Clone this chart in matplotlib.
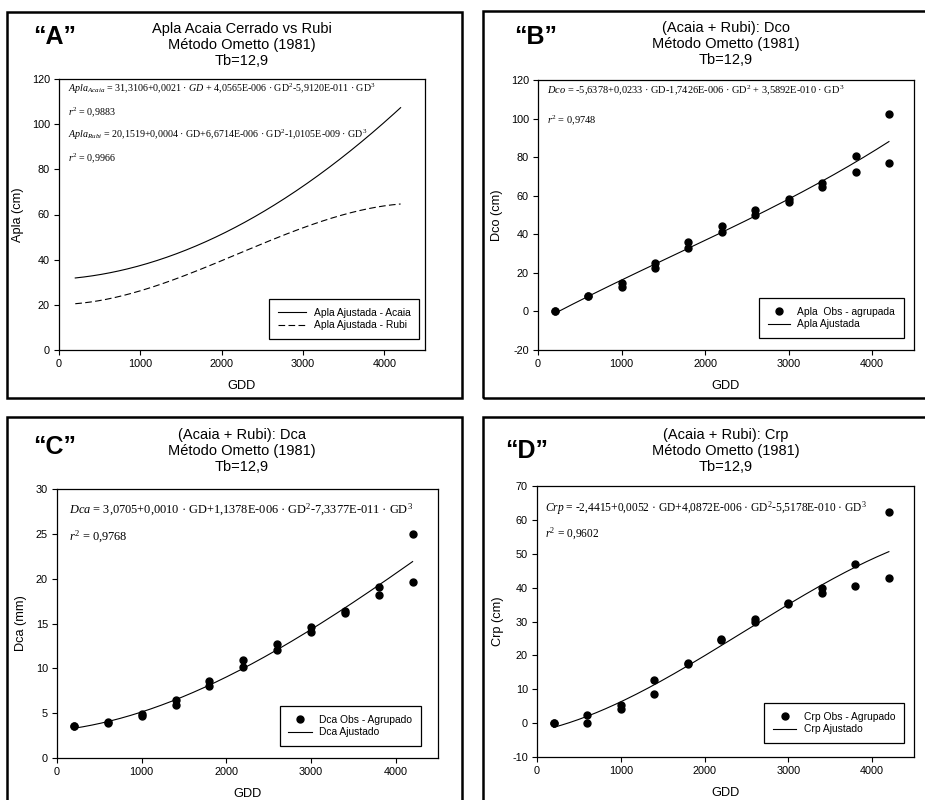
import numpy as np
import matplotlib
matplotlib.use("Agg")
import matplotlib.pyplot as plt
from matplotlib.patches import Rectangle

plt.rcParams['font.family'] = ['Liberation Sans', 'DejaVu Sans']
plt.rcParams['mathtext.fontset'] = 'custom'
plt.rcParams['mathtext.rm'] = 'Liberation Serif'
plt.rcParams['mathtext.it'] = 'Liberation Serif:italic'
plt.rcParams['mathtext.bf'] = 'Liberation Serif:bold'
plt.rcParams['axes.unicode_minus'] = False

# ---- data -------------------------------------------------------------
gdd_obs = [200, 600, 1000, 1400, 1800, 2200, 2600, 3000, 3400, 3800, 4200]

# polynomial coefficients (c0, c1, c2, c3) of the fitted curves
coef_apla_acaia = [31.3106, 0.0021, 4.0565e-6, -5.9120e-11]
coef_apla_rubi = [20.1519, 0.0004, 6.6714e-6, -1.0105e-9]
coef_dco = [-5.6378, 0.0233, -1.7426e-6, 3.5892e-10]
coef_dca = [3.0705, 0.0010, 1.1378e-6, -7.3377e-11]
coef_crp = [-2.4415, 0.0052, 4.0872e-6, -5.5178e-10]

# grouped observations (two per GDD value)
dco_obs_1 = [0.0, 8.0, 14.6, 25.3, 35.8, 44.5, 52.6, 58.5, 66.8, 80.6, 102.4]
dco_obs_2 = [0.0, 7.8, 12.9, 22.7, 32.7, 41.4, 49.8, 56.8, 64.3, 72.5, 76.8]
dca_obs_1 = [3.6, 4.05, 4.94, 6.5, 8.62, 10.9, 12.7, 14.6, 16.4, 19.1, 25.0]
dca_obs_2 = [3.6, 3.9, 4.65, 5.95, 8.0, 10.15, 12.0, 14.0, 16.2, 18.2, 19.6]
crp_obs_1 = [0.0, 2.3, 5.4, 12.8, 17.8, 24.7, 30.7, 35.5, 40.0, 47.0, 62.3]
crp_obs_2 = [0.0, 0.0, 4.3, 8.6, 17.5, 24.5, 30.0, 35.3, 38.4, 40.6, 42.7]

title_lines = {
    'A': "Apla Acaia Cerrado vs Rubi\nMétodo Ometto (1981)\nTb=12,9",
    'B': "(Acaia + Rubi): Dco\nMétodo Ometto (1981)\nTb=12,9",
    'C': "(Acaia + Rubi): Dca\nMétodo Ometto (1981)\nTb=12,9",
    'D': "(Acaia + Rubi): Crp\nMétodo Ometto (1981)\nTb=12,9",
}

W, H = 925, 800
fig = plt.figure(figsize=(W / 100, H / 100), dpi=100)


def px_axes(left, top, right, bottom):
    return fig.add_axes([left / W, 1 - bottom / H, (right - left) / W, (bottom - top) / H])


def poly(c, x):
    x = np.asarray(x, dtype=float)
    return c[0] + c[1] * x + c[2] * x ** 2 + c[3] * x ** 3


def style(ax, ylim, yticks, ylabel):
    ax.set_xlim(0, 4500)
    ax.set_ylim(*ylim)
    ax.set_xticks([0, 1000, 2000, 3000, 4000])
    ax.set_yticks(yticks)
    ax.tick_params(direction='out', length=3.5, width=0.8, labelsize=7.8, pad=3,
                   top=False, right=False)
    for s in ax.spines.values():
        s.set_linewidth(0.9)
    ax.set_xlabel("GDD", fontsize=9.2, labelpad=8)
    ax.set_ylabel(ylabel, fontsize=9.2, labelpad=6)


def panel_frame(x0, y0, x1, y1):
    fig.patches.append(Rectangle((x0 / W, 1 - y1 / H), (x1 - x0) / W, (y1 - y0) / H,
                                 transform=fig.transFigure, fill=False,
                                 edgecolor='black', linewidth=1.8))


def panel_text(letter, lx, ly, cx, ty):
    fig.text(lx / W, 1 - ly / H, "\u201c" + letter + "\u201d", fontsize=18,
             fontweight='bold', ha='left', va='center')
    fig.text(cx / W, 1 - ty / H, title_lines[letter], fontsize=10.5, ha='center',
             va='top', linespacing=1.2)


def legend(ax, anchor, hl, fs=7.4):
    leg = ax.legend(loc='lower right', bbox_to_anchor=anchor, borderaxespad=0,
                    fancybox=False, edgecolor='black', framealpha=1, fontsize=fs,
                    handlelength=hl, handletextpad=0.7, labelspacing=0.25,
                    borderpad=0.85)
    leg.get_frame().set_linewidth(0.9)


eq_kw = dict(family='Liberation Serif', ha='left', va='baseline')
xfit = np.linspace(200, 4200, 300)

# frames around the four panels
panel_frame(7, 12, 462, 398)
panel_frame(483, 11, 935, 398)
panel_frame(7, 417, 462, 810)
panel_frame(483, 417, 935, 810)

# ---- A ----
axA = px_axes(59, 79, 425, 350)
axA.plot(xfit, poly(coef_apla_acaia, xfit), color='black', lw=0.8,
         label="Apla Ajustada - Acaia")
axA.plot(xfit, poly(coef_apla_rubi, xfit), color='black', lw=0.8,
         dashes=(6, 3), label="Apla Ajustada - Rubi")
style(axA, (0, 120), np.arange(0, 121, 20), "Apla (cm)")
legend(axA, (0.984, 0.04), 2.8)
fsA = 7.2
axA.text(0.025, 0.952, r"$\mathit{Apla}_{\mathit{Acaia}}$ = 31,3106+0,0021 · $\mathit{GD}$ + "
         r"4,0565E-006 · GD$^{2}$-5,9120E-011 · GD$^{3}$",
         transform=axA.transAxes, fontsize=fsA, **eq_kw)
axA.text(0.025, 0.867, r"$\mathit{r}^{2}$ = 0,9883", transform=axA.transAxes,
         fontsize=fsA, **eq_kw)
axA.text(0.025, 0.782, r"$\mathit{Apla}_{\mathit{Rubi}}$ = 20,1519+0,0004 · GD+"
         r"6,6714E-006 · GD$^{2}$-1,0105E-009 · GD$^{3}$",
         transform=axA.transAxes, fontsize=fsA, **eq_kw)
axA.text(0.025, 0.697, r"$\mathit{r}^{2}$ = 0,9966", transform=axA.transAxes,
         fontsize=fsA, **eq_kw)
panel_text('A', 33, 37, 242, 22)

# ---- B ----
axB = px_axes(538, 80, 914, 350)
axB.plot(gdd_obs + gdd_obs, dco_obs_1 + dco_obs_2, 'o', color='black', ms=5,
         label="Apla  Obs - agrupada")
axB.plot(xfit, poly(coef_dco, xfit), color='black', lw=0.8, label="Apla Ajustada")
style(axB, (-20, 120), np.arange(-20, 121, 20), "Dco (cm)")
legend(axB, (0.973, 0.044), 2.2)
fsB = 7.5
axB.text(0.024, 0.952, r"$\mathit{Dco}$ = -5,6378+0,0233 · GD-1,7426E-006 · GD$^{2}$"
         r" + 3,5892E-010 · GD$^{3}$", transform=axB.transAxes, fontsize=fsB, **eq_kw)
axB.text(0.024, 0.841, r"$\mathit{r}^{2}$ = 0,9748", transform=axB.transAxes,
         fontsize=fsB, **eq_kw)
panel_text('B', 514, 37, 726, 21)

# ---- C ----
axC = px_axes(57, 489, 438, 758)
axC.plot(gdd_obs + gdd_obs, dca_obs_1 + dca_obs_2, 'o', color='black', ms=5,
         label="Dca Obs - Agrupado")
axC.plot(xfit, poly(coef_dca, xfit), color='black', lw=0.8, label="Dca Ajustado")
style(axC, (0, 30), np.arange(0, 31, 5), "Dca (mm)")
legend(axC, (0.955, 0.045), 2.3)
fsC = 8.9
axC.text(0.031, 0.911, r"$\mathit{Dca}$ = 3,0705+0,0010 · GD+1,1378E-006 · GD$^{2}$"
         r"-7,3377E-011 · GD$^{3}$", transform=axC.transAxes, fontsize=fsC, **eq_kw)
axC.text(0.031, 0.810, r"$\mathit{r}^{2}$ = 0,9768", transform=axC.transAxes,
         fontsize=fsC, **eq_kw)
panel_text('C', 33, 447, 242, 428)

# ---- D ----
axD = px_axes(537, 486, 914, 757)
axD.plot(gdd_obs + gdd_obs, crp_obs_1 + crp_obs_2, 'o', color='black', ms=5,
         label="Crp Obs - Agrupado")
axD.plot(xfit, poly(coef_crp, xfit), color='black', lw=0.8, label="Crp Ajustado")
style(axD, (-10, 70), np.arange(-10, 71, 10), "Crp (cm)")
legend(axD, (0.973, 0.052), 2.3)
fsD = 8.3
axD.text(0.021, 0.904, r"$\mathit{Crp}$ = -2,4415+0,0052 · GD+4,0872E-006 · GD$^{2}$"
         r"-5,5178E-010 · GD$^{3}$", transform=axD.transAxes, fontsize=fsD, **eq_kw)
axD.text(0.021, 0.812, r"$\mathit{r}^{2}$ = 0,9602", transform=axD.transAxes,
         fontsize=fsD, **eq_kw)
panel_text('D', 505, 451, 726, 428)

fig.savefig("out.png", dpi=100)
